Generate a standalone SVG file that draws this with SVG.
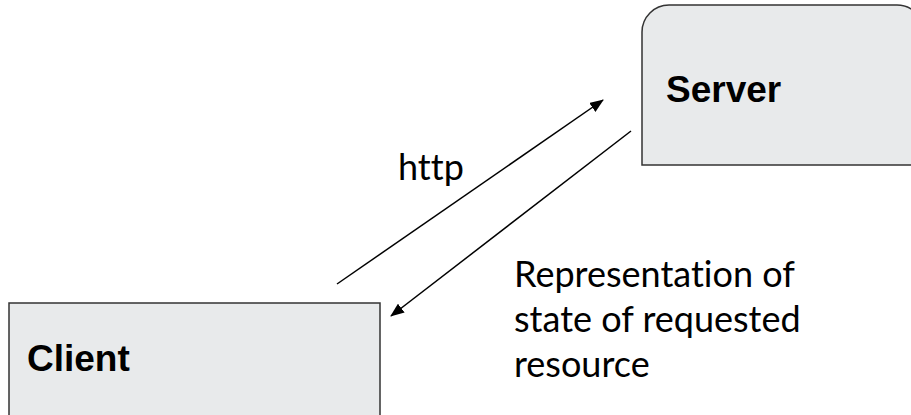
<svg xmlns="http://www.w3.org/2000/svg" width="911" height="415" viewBox="0 0 911 415">
<style>
.box{fill:#e8eaeb;stroke:#333;stroke-width:1.5}
.lbl{font-family:"Liberation Sans",Arial,sans-serif;font-weight:bold;font-size:37px;fill:#000}
.txt{font-family:Lato,"Open Sans",sans-serif;font-size:36px;fill:#000;font-variant-ligatures:none}
.con{stroke:#000;stroke-width:1.5;fill:none}
</style>
<defs>
<marker id="ah" markerWidth="14" markerHeight="11" refX="13" refY="5.5" orient="auto" markerUnits="userSpaceOnUse" viewBox="0 0 14 11">
<path d="M0,0 L14,5.5 L0,11 Z" fill="#000"/>
</marker>
</defs>
<rect width="911" height="415" fill="#fff"/>
<g id="server">
<path class="box" d="M642,165 V32 A27,27 0 0 1 669,5 H897 A27,27 0 0 1 924,32 V165 Z"/>
<text class="lbl" x="666" y="102">Server</text>
</g>
<g id="client">
<rect class="box" x="9" y="303" width="371" height="130"/>
<text class="lbl" x="27" y="371">Client</text>
</g>
<g id="connectors">
<line class="con" x1="337" y1="284" x2="603" y2="100" marker-end="url(#ah)"/>
<line class="con" x1="631" y1="131" x2="391" y2="316" marker-end="url(#ah)"/>
</g>
<g id="labels">
<text class="txt" x="398" y="180">http</text>
<text class="txt" x="514" y="287">Representation of</text>
<text class="txt" x="514" y="332">state of requested</text>
<text class="txt" x="514" y="377">resource</text>
</g>
</svg>
